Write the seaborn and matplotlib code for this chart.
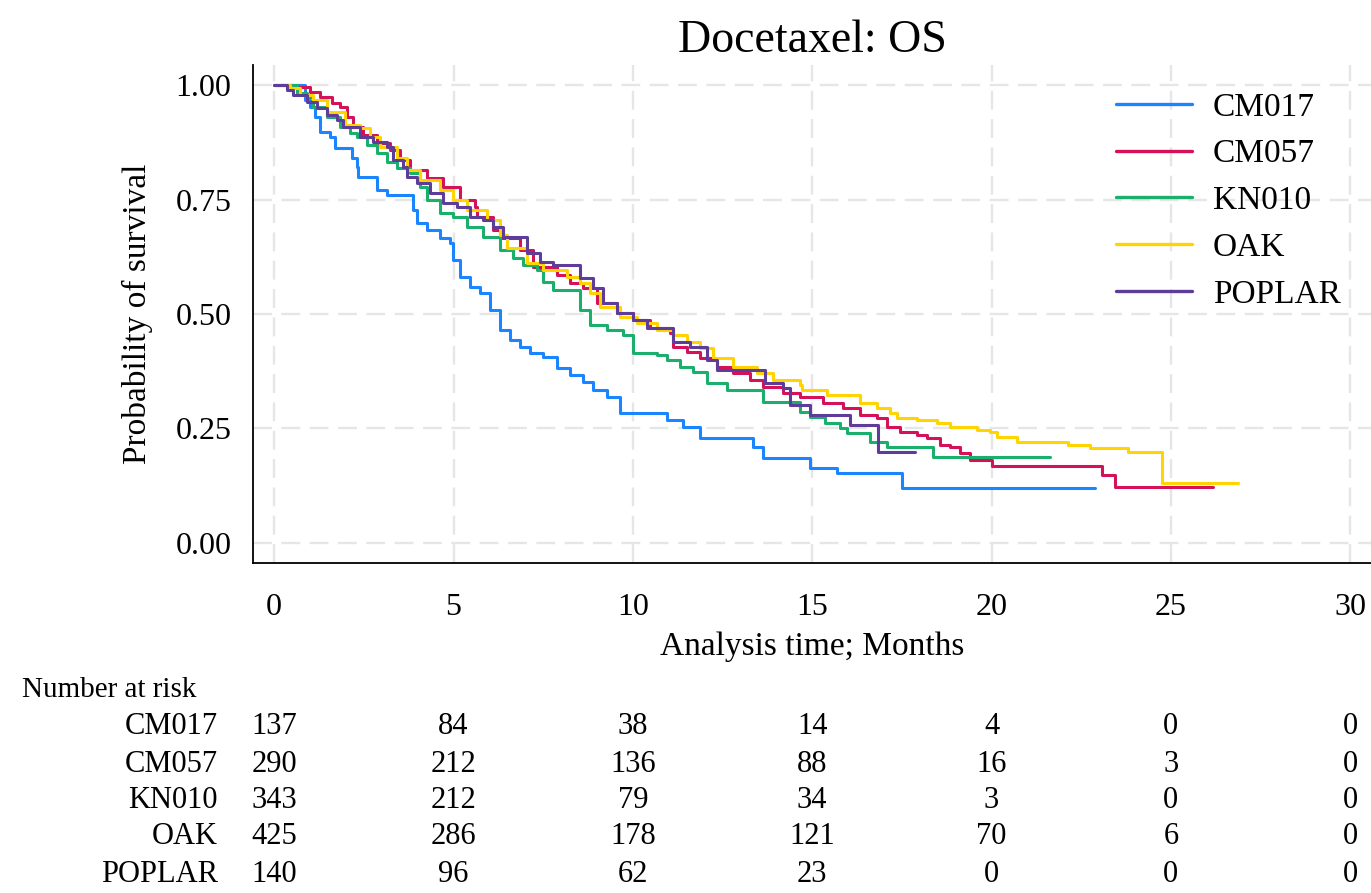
import numpy as np
import pandas as pd
import matplotlib
matplotlib.use("Agg")
import matplotlib.pyplot as plt
import matplotlib.transforms as mtransforms
import seaborn as sns

# ---------------- data ----------------
groups = ["CM017", "CM057", "KN010", "OAK", "POPLAR"]
colors = ["#1a85ff", "#d41159", "#1aaf6c", "#ffd400", "#5e3c99"]

cm017_t = [0.0, 0.86, 1.00, 1.14, 1.28, 1.56, 1.70, 2.17, 2.31, 2.34, 2.87, 3.15, 3.88, 3.99, 4.27, 4.63, 4.91, 4.99,
           5.19, 5.46, 5.74, 6.02, 6.30, 6.58, 6.86, 7.14, 7.50, 7.89, 8.25, 8.61, 8.89, 9.28, 9.65, 10.96, 11.40,
           11.88, 13.35, 13.63, 14.94, 15.70, 17.51, 22.89]
cm017_s = [1.0, 0.967, 0.952, 0.930, 0.897, 0.886, 0.862, 0.841, 0.821, 0.799, 0.771, 0.760, 0.727, 0.699, 0.683,
           0.666, 0.655, 0.618, 0.581, 0.559, 0.546, 0.509, 0.465, 0.443, 0.428, 0.415, 0.406, 0.382, 0.367, 0.352,
           0.334, 0.319, 0.284, 0.269, 0.253, 0.229, 0.210, 0.186, 0.164, 0.153, 0.120, 0.120]

cm057_t = [0.0, 0.53, 1.00, 1.28, 1.62, 1.84, 2.04, 2.20, 2.48, 2.87, 3.23, 3.51, 3.79, 4.27, 4.71, 5.19, 5.60, 5.66,
           6.11, 6.30, 6.86, 7.22, 7.89, 8.25, 8.61, 9.00, 9.56, 10.01, 10.48, 11.04, 11.12, 11.51, 11.88, 12.35,
           12.80, 13.27, 13.63, 14.19, 14.66, 15.31, 15.86, 16.34, 16.81, 17.09, 17.45, 17.93, 18.20, 18.57, 18.85,
           19.12, 19.40, 20.02, 23.08, 23.45, 26.18]
cm057_s = [1.0, 0.996, 0.985, 0.974, 0.961, 0.952, 0.930, 0.908, 0.891, 0.873, 0.858, 0.836, 0.814, 0.797, 0.777,
           0.749, 0.734, 0.712, 0.683, 0.666, 0.640, 0.603, 0.585, 0.568, 0.557, 0.524, 0.502, 0.487, 0.469, 0.459,
           0.428, 0.417, 0.404, 0.384, 0.371, 0.356, 0.341, 0.328, 0.319, 0.306, 0.295, 0.279, 0.273, 0.253, 0.242,
           0.236, 0.229, 0.214, 0.210, 0.197, 0.181, 0.168, 0.148, 0.122, 0.122]

kn010_t = [0.0, 0.64, 0.92, 1.09, 1.48, 1.84, 2.12, 2.31, 2.59, 2.87, 3.15, 3.43, 3.79, 4.07, 4.27, 4.63, 4.99, 5.38,
           5.83, 6.30, 6.66, 6.94, 7.33, 7.50, 7.78, 8.53, 8.81, 9.28, 9.73, 10.01, 10.68, 10.96, 11.32, 11.68,
           12.07, 12.63, 13.63, 14.66, 14.94, 15.36, 15.78, 15.97, 16.62, 17.09, 18.37, 21.63]
kn010_s = [1.0, 0.983, 0.974, 0.952, 0.930, 0.908, 0.895, 0.886, 0.869, 0.852, 0.832, 0.819, 0.808, 0.777, 0.749,
           0.721, 0.712, 0.690, 0.668, 0.640, 0.622, 0.607, 0.596, 0.570, 0.552, 0.509, 0.476, 0.465, 0.454, 0.415,
           0.410, 0.400, 0.384, 0.373, 0.349, 0.334, 0.308, 0.286, 0.275, 0.262, 0.251, 0.240, 0.221, 0.210, 0.188,
           0.188]

oak_t = [0.0, 0.45, 0.72, 1.09, 1.48, 1.98, 2.40, 2.68, 2.96, 3.43, 3.71, 4.07, 4.63, 4.99, 5.38, 5.94, 6.30, 6.50,
         7.05, 7.50, 8.17, 8.53, 8.81, 9.09, 9.65, 10.12, 10.68, 11.12, 11.51, 11.88, 12.24, 12.80, 13.47, 13.91,
         14.66, 14.72, 15.42, 16.34, 16.81, 17.17, 17.37, 17.93, 18.48, 18.85, 19.60, 19.96, 20.16, 20.71, 22.14,
         22.75, 23.81, 24.76, 26.88]
oak_s = [1.0, 0.993, 0.978, 0.967, 0.941, 0.913, 0.906, 0.886, 0.865, 0.841, 0.814, 0.793, 0.771, 0.749, 0.727,
         0.705, 0.672, 0.644, 0.611, 0.596, 0.581, 0.568, 0.546, 0.515, 0.493, 0.480, 0.465, 0.454, 0.439, 0.426,
         0.404, 0.384, 0.371, 0.356, 0.345, 0.334, 0.323, 0.306, 0.295, 0.284, 0.273, 0.269, 0.262, 0.253, 0.247,
         0.242, 0.231, 0.221, 0.214, 0.207, 0.199, 0.131, 0.131]

poplar_t = [0.0, 0.36, 0.53, 0.92, 1.20, 1.48, 1.76, 1.92, 2.40, 2.76, 3.15, 3.32, 3.60, 3.71, 3.99, 4.35, 4.71, 5.10,
            5.46, 5.83, 6.11, 6.38, 7.05, 7.42, 7.78, 8.53, 8.89, 9.17, 9.56, 10.01, 10.40, 11.12, 11.60, 12.07,
            12.35, 13.69, 14.19, 14.39, 14.94, 16.06, 16.84, 17.87]
poplar_s = [1.0, 0.989, 0.978, 0.963, 0.950, 0.934, 0.924, 0.908, 0.886, 0.876, 0.865, 0.836, 0.821, 0.799, 0.786,
            0.764, 0.742, 0.734, 0.712, 0.705, 0.690, 0.668, 0.633, 0.614, 0.607, 0.579, 0.557, 0.524, 0.502, 0.487,
            0.469, 0.439, 0.428, 0.400, 0.378, 0.349, 0.338, 0.301, 0.279, 0.258, 0.199, 0.199]

risk_times = [0, 5, 10, 15, 20, 25, 30]
risk_cm017 = [137, 84, 38, 14, 4, 0, 0]
risk_cm057 = [290, 212, 136, 88, 16, 3, 0]
risk_kn010 = [343, 212, 79, 34, 3, 0, 0]
risk_oak = [425, 286, 178, 121, 70, 6, 0]
risk_poplar = [140, 96, 62, 23, 0, 0, 0]

x_ticks = [0, 5, 10, 15, 20, 25, 30]
y_ticks = [0.0, 0.25, 0.5, 0.75, 1.0]

# ---------------- build long table ----------------
series_t = [cm017_t, cm057_t, kn010_t, oak_t, poplar_t]
series_s = [cm017_s, cm057_s, kn010_s, oak_s, poplar_s]
frames = []
for g, t, s in zip(groups, series_t, series_s):
    frames.append(pd.DataFrame({"time": t, "surv": s, "group": g}))
df = pd.concat(frames, ignore_index=True)
risk = [risk_cm017, risk_cm057, risk_kn010, risk_oak, risk_poplar]

# ---------------- styling ----------------
sns.set_theme(style="white")
plt.rcParams["font.family"] = ["Liberation Serif", "DejaVu Serif"]
plt.rcParams["axes.unicode_minus"] = False
plt.rcParams["text.color"] = "black"

W, H = 1371, 893
fig = plt.figure(figsize=(W / 100, H / 100), dpi=100)
ax = fig.add_axes([253 / W, 1 - 563 / H, (1371 - 253) / W, (563 - 65) / H])

sns.lineplot(data=df, x="time", y="surv", hue="group", hue_order=groups,
             palette=colors, estimator=None, sort=True, drawstyle="steps-post",
             linewidth=2.2, ax=ax, legend=True)

ax.set_xlim(-0.59, 30.58)
ax.set_ylim(-0.044, 1.044)
ax.set_xticks(x_ticks)
ax.set_yticks(y_ticks)
ax.set_xticklabels([str(v) for v in x_ticks])
ax.set_yticklabels([f"{v:.2f}" for v in y_ticks])

for v in x_ticks:
    ax.axvline(v, color="#e6e6e6", lw=1.7, ls=(0, (8, 4)), zorder=0)
for v in y_ticks:
    ax.axhline(v, color="#e6e6e6", lw=1.7, ls=(0, (8, 4)), zorder=0)

for side in ["top", "right"]:
    ax.spines[side].set_visible(False)
for side in ["left", "bottom"]:
    ax.spines[side].set_color("black")
    ax.spines[side].set_linewidth(1.3)

ax.tick_params(axis="both", direction="out", length=9.5, width=1.3, color="black",
               labelsize=23, labelcolor="black")
ax.tick_params(axis="y", pad=6)
ax.tick_params(axis="x", pad=12)

ax.set_xlabel("Analysis time; Months", fontsize=24, color="black", labelpad=7)
ax.set_ylabel("Probability of survival", fontsize=24, color="black", labelpad=16)
ax.set_title("Docetaxel: OS", fontsize=33, color="black", pad=9)

handles, labels = ax.get_legend_handles_labels()
leg = ax.legend(handles, labels, loc="upper left", bbox_to_anchor=(1086 / W, 1 - 62 / H),
                bbox_transform=fig.transFigure, frameon=False, fontsize=24,
                handlelength=2.28, handletextpad=0.63, labelspacing=0.49)
for line in leg.get_lines():
    line.set_linewidth(2.4)
for txt in leg.get_texts():
    txt.set_color("black")

# ---------------- number at risk table ----------------
trans = mtransforms.blended_transform_factory(ax.transData, fig.transFigure)
fig.text(22 / W, 1 - 690 / H, "Number at risk", fontsize=21, ha="left", va="center", color="black")
row_y = [727, 764, 800, 837, 874]
for g, counts, yp in zip(groups, risk, row_y):
    fig.text(218 / W, 1 - yp / H, g, fontsize=22, ha="right", va="center", color="black")
    for tt, c in zip(risk_times, counts):
        ax.text(tt, 1 - yp / H, str(c), transform=trans, fontsize=22, ha="center", va="center",
                color="black", clip_on=False)

fig.savefig("out.png", dpi=100, facecolor="white")
